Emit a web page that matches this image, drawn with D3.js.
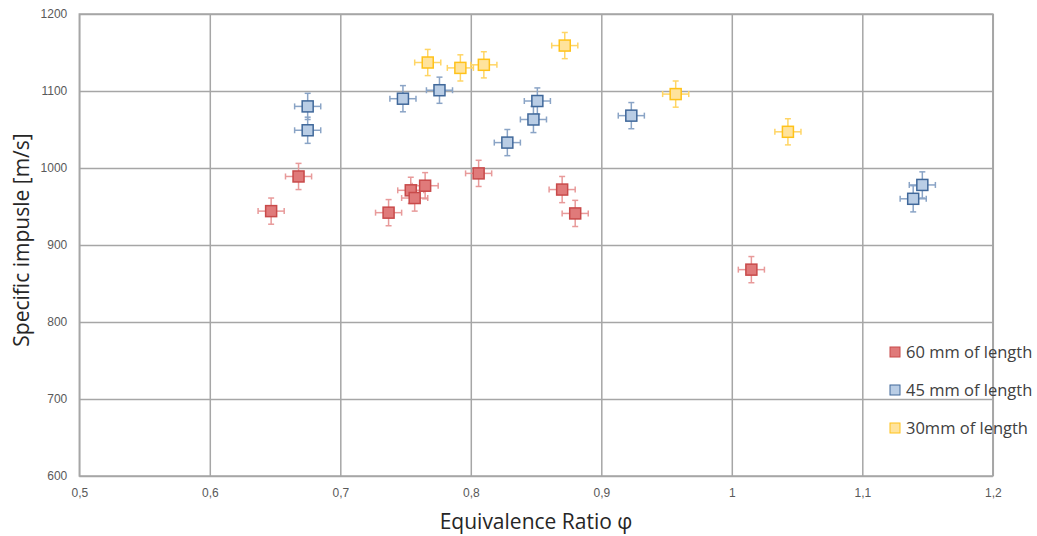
<!DOCTYPE html>
<html><head><meta charset="utf-8">
<script src="https://cdn.jsdelivr.net/npm/d3@7"></script>
<style>body{margin:0;background:#fff;} svg{display:block;font-family:"Open Sans",sans-serif;}</style>
</head><body>
<svg id="c" width="1037" height="536"></svg>
<script>
const seriesNames = ["60 mm of length", "45 mm of length", "30mm of length"];
const red60 = [[0.647,944],[0.668,989],[0.737,942],[0.754,971],[0.757,961],[0.765,977],[0.806,993],[0.870,972],[0.880,941],[1.015,868]];
const blue45 = [[0.675,1080],[0.675,1049],[0.748,1090],[0.776,1101],[0.828,1033],[0.848,1063],[0.851,1087],[0.923,1068],[1.139,960],[1.146,978]];
const yellow30 = [[0.767,1137],[0.792,1130],[0.810,1134],[0.872,1159],[0.957,1096],[1.043,1047]];
const xError = 0.01;
const yError = 17;
const xTicks = [0.5,0.6,0.7,0.8,0.9,1.0,1.1,1.2];
const yTicks = [600,700,800,900,1000,1100,1200];
const xTitle = "Equivalence Ratio φ";
const yTitle = "Specific impusle [m/s]";

const styles = [
  {fill:"#e07a7a", stroke:"#c84a4a", err:"#e89a9a"},
  {fill:"#b9cde5", stroke:"#40689a", err:"#8aa4c6"},
  {fill:"#ffe39c", stroke:"#ffc21a", err:"#ffd565"}
];
const data = [red60, blue45, yellow30];

const svg = d3.select("#c");
const L=79.3, R=992.8, T=14, B=476;
const x = d3.scaleLinear().domain([0.5,1.2]).range([L,R]);
const y = d3.scaleLinear().domain([600,1200]).range([B,T]);

const fmt = d => d3.format(".1f")(d).replace(/\.0$/,"").replace(".",",");

// grid
const gx = svg.append("g").attr("transform",`translate(0,${B})`)
  .call(d3.axisBottom(x).tickValues(xTicks).tickSize(-(B-T)).tickFormat(d => d===1?"1":fmt(d)).tickPadding(12));
const gy = svg.append("g").attr("transform",`translate(${L},0)`)
  .call(d3.axisLeft(y).tickValues(yTicks).tickSize(-(R-L)).tickFormat(d3.format("d")).tickPadding(12));
[gx,gy].forEach(g=>{
  g.select(".domain").remove();
  g.selectAll(".tick line").attr("stroke","#a6a6a6").attr("stroke-width",1.5);
  g.selectAll(".tick text").attr("fill","#595959").attr("font-size","12px");
});
gx.selectAll(".tick text").attr("dy","0.71em");
// border
svg.append("rect").attr("x",L).attr("y",T).attr("width",R-L).attr("height",B-T)
  .attr("fill","none").attr("stroke","#a6a6a6").attr("stroke-width",1.5);

// points
data.forEach((ser,i)=>{
  const st = styles[i];
  const g = svg.append("g");
  ser.forEach(([px,py])=>{
    const cx=x(px), cy=y(py);
    const x0=x(px-xError), x1=x(px+xError), y0=y(py-yError), y1=y(py+yError);
    const e = g.append("g").attr("stroke",st.err).attr("stroke-width",1.5);
    e.append("line").attr("x1",x0).attr("x2",x1).attr("y1",cy).attr("y2",cy);
    e.append("line").attr("x1",cx).attr("x2",cx).attr("y1",y0).attr("y2",y1);
    e.append("line").attr("x1",x0).attr("x2",x0).attr("y1",cy-3).attr("y2",cy+3);
    e.append("line").attr("x1",x1).attr("x2",x1).attr("y1",cy-3).attr("y2",cy+3);
    e.append("line").attr("x1",cx-3).attr("x2",cx+3).attr("y1",y0).attr("y2",y0);
    e.append("line").attr("x1",cx-3).attr("x2",cx+3).attr("y1",y1).attr("y2",y1);
  });
  ser.forEach(([px,py])=>{
    g.append("rect").attr("x",x(px)-5.5).attr("y",y(py)-5.5).attr("width",11).attr("height",11)
      .attr("fill",st.fill).attr("stroke",st.stroke).attr("stroke-width",1.5);
  });
});

// legend
const leg = svg.append("g");
seriesNames.forEach((n,i)=>{
  const ly = 352 + i*38;
  leg.append("rect").attr("x",890).attr("y",ly-5).attr("width",10).attr("height",10)
    .attr("fill",styles[i].fill).attr("stroke",styles[i].stroke).attr("stroke-width",1);
  leg.append("text").attr("x",906).attr("y",ly).attr("dy","0.35em")
    .attr("font-size","16.5px").attr("fill","#404040").text(n);
});

// titles
svg.append("text").attr("x",(L+R)/2).attr("y",522).attr("dy","0.35em").attr("text-anchor","middle")
  .attr("font-size","21px").attr("fill","#262626").text(xTitle);
svg.append("text").attr("transform","translate(22,240) rotate(-90)").attr("dy","0.35em").attr("text-anchor","middle")
  .attr("font-size","21px").attr("fill","#262626").text(yTitle);
</script>
</body></html>
